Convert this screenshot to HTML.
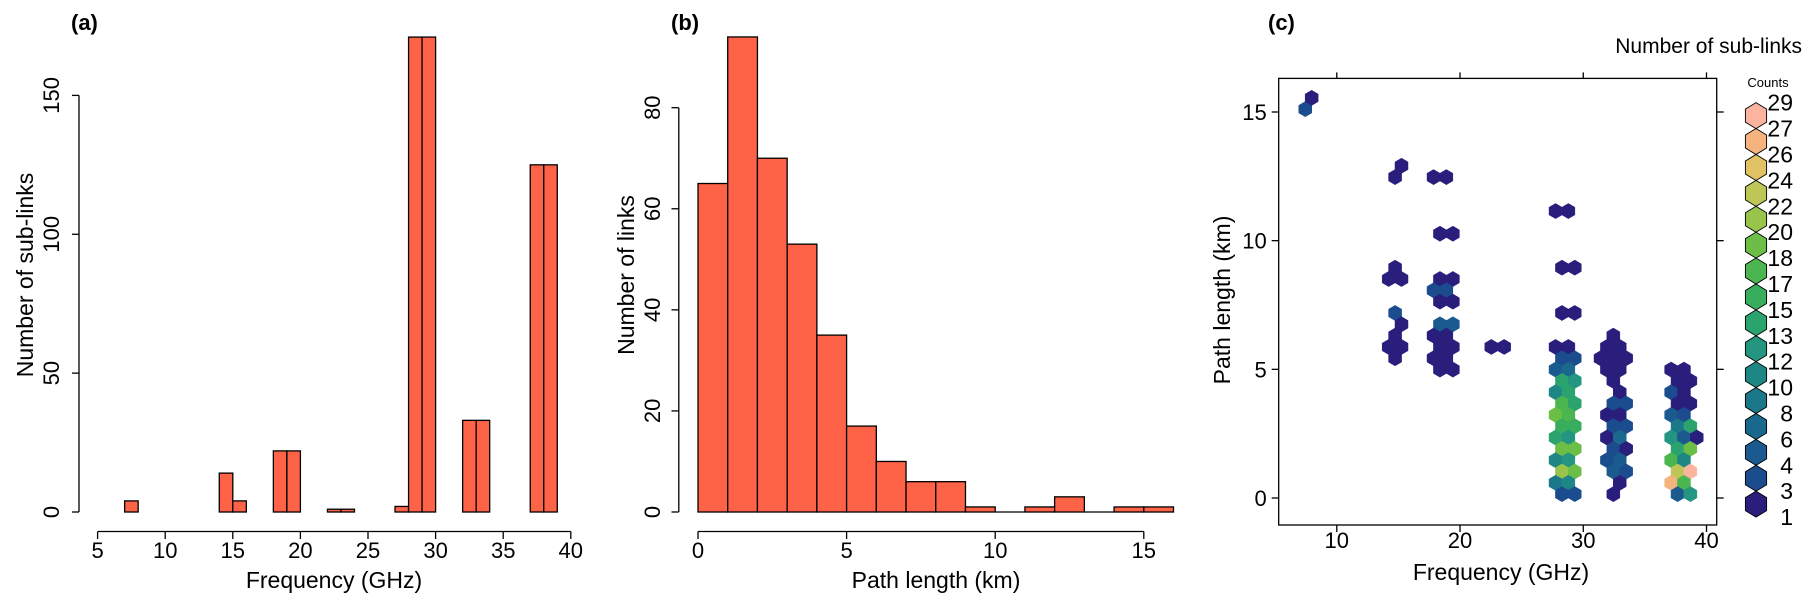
<!DOCTYPE html>
<html><head><meta charset="utf-8">
<style>
html,body{margin:0;padding:0;background:#fff;}
svg{display:block;font-family:"Liberation Sans",Arial,sans-serif;}
</style></head>
<body>
<svg id="fig" width="1819" height="602" viewBox="0 0 1819 602" xmlns="http://www.w3.org/2000/svg">
<g id="pa"></g>
<g id="pb"></g>
<g id="pc"></g>
</svg>
<script>
// ---- Panel (a) data ----
const freqBinStart = [7,8,9,10,11,12,13,14,15,16,17,18,19,20,21,22,23,24,25,26,27,28,29,30,31,32,33,34,35,36,37,38];
const freqCounts   = [4,0,0,0,0,0,0,14,4,0,0,22,22,0,0,1,1,0,0,0,2,171,171,0,0,33,33,0,0,0,125,125];
const freqTicks = [5,10,15,20,25,30,35,40];
const subLinkTicks = [0,50,100,150];
// ---- Panel (b) data ----
const lenBinStart = [0,1,2,3,4,5,6,7,8,9,10,11,12,13,14,15];
const lenCounts   = [65,94,70,53,35,17,10,6,6,1,0,1,3,0,1,1];
const lenTicks = [0,5,10,15];
const linkTicks = [0,20,40,60,80];
// ---- Panel (c) data ----
const hexX = [7.44,7.96,
 15.25,14.73,14.73,14.21,15.25,14.73,15.25,14.73,14.21,15.25,14.73,
 17.85,18.89,18.37,19.42,18.37,19.42,17.85,18.89,18.37,19.42,18.37,19.42,17.85,18.89,18.37,19.42,17.85,18.89,18.37,19.42,
 22.54,23.58,
 27.75,28.79,28.27,29.31,28.27,29.31,27.75,28.79,28.27,29.31,27.75,28.79,28.27,29.31,27.75,28.79,28.27,29.31,27.75,28.79,28.27,29.31,27.75,28.79,28.27,29.31,27.75,28.79,28.27,29.31,27.75,28.79,28.27,29.31,
 32.44,31.92,32.96,31.40,32.44,33.48,31.92,32.96,32.44,32.96,32.44,33.48,31.92,32.96,32.44,33.48,31.92,32.96,32.44,33.48,31.92,32.96,32.44,33.48,32.96,32.44,
 37.13,38.17,37.65,38.69,37.13,38.17,37.65,38.69,37.13,38.17,37.65,38.69,37.13,38.17,39.21,37.65,38.69,37.13,38.17,37.65,38.69,37.13,38.17,37.65,38.69];
const hexRow = [34,35,
 29,28,20,19,19,16,15,14,13,13,12,
 28,28,23,23,19,19,18,18,17,17,15,15,14,14,13,13,12,12,11,11,
 13,13,
 25,25,20,20,16,16,13,13,12,12,11,11,10,10,9,9,8,8,7,7,6,6,5,5,4,4,3,3,2,2,1,1,0,0,
 14,13,13,12,12,12,11,11,10,9,8,8,7,7,6,6,5,5,4,4,3,3,2,2,1,0,
 11,11,10,10,9,9,8,8,7,7,6,6,5,5,5,4,4,3,3,2,2,1,1,0,0];
const hexCount = [4,1,
 1,1,1,1,1,4,1,1,1,1,1,
 1,1,1,1,1,1,4,4,1,1,6,6,1,1,1,1,1,1,1,1,
 1,1,
 1,1,1,1,1,1,1,1,4,4,6,8,15,13,12,15,18,15,20,18,17,17,15,13,20,20,12,13,22,20,10,12,4,4,
 1,1,1,1,1,1,1,1,1,1,4,4,1,1,4,4,1,8,4,1,4,6,6,4,1,1,
 1,1,1,1,4,3,1,1,6,4,10,15,13,6,1,15,20,18,12,24,29,27,18,6,13];
const pathTicks = [0,5,10,15];
const freqTicksC = [10,20,30,40];
const legendLevels = [1,3,4,6,8,10,12,13,15,17,18,20,22,24,26,27,29];
const legendColors = ["#2a1e7d","#1b4c8e","#1a5a8f","#1a688d","#1b7889","#1e8785","#239580","#2ba36f","#38ad5e","#4bb64f","#6dbe47","#98c44c","#bdc657","#e0c264","#f5b47f","#fbb4a0"];

const NS="http://www.w3.org/2000/svg";
function mk(parent,tag,attrs,text){const e=document.createElementNS(NS,tag);for(const k in attrs)e.setAttribute(k,attrs[k]);if(text!==undefined)e.textContent=text;parent.appendChild(e);return e;}

// ===== Panel (a) =====
(function(){
 const g=document.getElementById('pa');
 const sx=v=>97.6+(v-5)*(570.8-97.6)/35;
 const sy=v=>512-v*(512-95.4)/150;
 freqBinStart.forEach((b,i)=>{
  const r=mk(g,'rect',{x:sx(b),y:sy(freqCounts[i]),width:sx(b+1)-sx(b),height:512-sy(freqCounts[i]),fill:'#ff6347',stroke:'#000','stroke-width':1.3});
  
  
 });
 const xa=mk(g,'g',{});
 
 
 mk(xa,'line',{x1:sx(5),x2:sx(40),y1:531.5,y2:531.5,stroke:'#000','stroke-width':1.3});
 freqTicks.forEach(t=>{mk(xa,'line',{x1:sx(t),x2:sx(t),y1:531.5,y2:539,stroke:'#000','stroke-width':1.3});
  const tx=mk(xa,'text',{x:sx(t),y:558,'font-size':22,'text-anchor':'middle'},t);
  
  });
 const xt=mk(g,'text',{x:334,y:588,'font-size':23,'text-anchor':'middle'},'Frequency (GHz)');
 
 
 const ya=mk(g,'g',{});
 
 
 mk(ya,'line',{x1:79,x2:79,y1:sy(0),y2:sy(150),stroke:'#000','stroke-width':1.3});
 subLinkTicks.forEach(t=>{mk(ya,'line',{x1:72,x2:79,y1:sy(t),y2:sy(t),stroke:'#000','stroke-width':1.3});
  const tx=mk(ya,'text',{x:0,y:0,'font-size':22,'text-anchor':'middle',transform:`translate(59,${sy(t)}) rotate(-90)`},t);
  
  });
 const yt=mk(g,'text',{x:0,y:0,'font-size':23,'text-anchor':'middle',transform:'translate(33,275) rotate(-90)'},'Number of sub-links');
 
 
 const pl=mk(g,'text',{x:71,y:30,'font-size':22,'font-weight':'bold'},'(a)');
 
 
})();

// ===== Panel (b) =====
(function(){
 const g=document.getElementById('pb');
 const sx=v=>698+v*(1143.8-698)/15;
 const sy=v=>512-v*(512-107.7)/80;
 lenBinStart.forEach((b,i)=>{
  if(lenCounts[i]===0){mk(g,'line',{x1:sx(b),x2:sx(b+1),y1:512,y2:512,stroke:'#000','stroke-width':1.3});return;}
  const r=mk(g,'rect',{x:sx(b),y:sy(lenCounts[i]),width:sx(b+1)-sx(b),height:512-sy(lenCounts[i]),fill:'#ff6347',stroke:'#000','stroke-width':1.3});
  
  
 });
 const xa=mk(g,'g',{});
 
 
 mk(xa,'line',{x1:sx(0),x2:sx(15),y1:531.5,y2:531.5,stroke:'#000','stroke-width':1.3});
 lenTicks.forEach(t=>{mk(xa,'line',{x1:sx(t),x2:sx(t),y1:531.5,y2:539,stroke:'#000','stroke-width':1.3});
  const tx=mk(xa,'text',{x:sx(t),y:558,'font-size':22,'text-anchor':'middle'},t);
  
  });
 const xt=mk(g,'text',{x:936,y:588,'font-size':23,'text-anchor':'middle'},'Path length (km)');
 
 
 const ya=mk(g,'g',{});
 
 
 mk(ya,'line',{x1:678.8,x2:678.8,y1:sy(0),y2:sy(80),stroke:'#000','stroke-width':1.3});
 linkTicks.forEach(t=>{mk(ya,'line',{x1:671.5,x2:678.8,y1:sy(t),y2:sy(t),stroke:'#000','stroke-width':1.3});
  const tx=mk(ya,'text',{x:0,y:0,'font-size':22,'text-anchor':'middle',transform:`translate(660,${sy(t)}) rotate(-90)`},t);
  
  });
 const yt=mk(g,'text',{x:0,y:0,'font-size':23,'text-anchor':'middle',transform:'translate(634,275) rotate(-90)'},'Number of links');
 
 
 const pl=mk(g,'text',{x:671,y:30,'font-size':22,'font-weight':'bold'},'(b)');
 
 
})();

// ===== Panel (c) =====
(function(){
 const g=document.getElementById('pc');
 const L=1278.7,R=1716.7,T=78.4,B=525;
 const sx=v=>1336.8+(v-10)*(1706.5-1336.8)/30;
 const sy=v=>498-v*(498-112)/15;
 const rowKm=r=>0.15+0.44*r;
 const colorFor=c=>{for(let i=0;i<legendColors.length;i++){if(c<=legendLevels[i+1])return legendColors[i];}return legendColors[legendColors.length-1];};
 const hw=6.5,hh=7.6;
 const hexPts=(cx,cy,w,h)=>[[cx,cy-h],[cx+w,cy-h/2],[cx+w,cy+h/2],[cx,cy+h],[cx-w,cy+h/2],[cx-w,cy-h/2]].map(p=>p[0].toFixed(2)+','+p[1].toFixed(2)).join(' ');
 hexX.forEach((x,i)=>{
  const cx=sx(x),cy=sy(rowKm(hexRow[i]));
  const p=mk(g,'polygon',{points:hexPts(cx,cy,hw,hh),fill:colorFor(hexCount[i]),stroke:colorFor(hexCount[i]),'stroke-width':0.5});
  
  
 });
 const fr=mk(g,'rect',{x:L,y:T,width:R-L,height:B-T,fill:'none',stroke:'#000','stroke-width':1.3});
 
 
 const xa=mk(g,'g',{});
 
 
 freqTicksC.forEach(t=>{
  mk(xa,'line',{x1:sx(t),x2:sx(t),y1:B,y2:B+7,stroke:'#000','stroke-width':1.3});
  mk(xa,'line',{x1:sx(t),x2:sx(t),y1:T,y2:T-6,stroke:'#000','stroke-width':1.3});
  const tx=mk(xa,'text',{x:sx(t),y:548,'font-size':22,'text-anchor':'middle'},t);
  
  });
 const xt=mk(g,'text',{x:1501,y:580,'font-size':23,'text-anchor':'middle'},'Frequency (GHz)');
 
 
 const ya=mk(g,'g',{});
 
 
 pathTicks.forEach(t=>{
  mk(ya,'line',{x1:L-7,x2:L,y1:sy(t),y2:sy(t),stroke:'#000','stroke-width':1.3});
  mk(ya,'line',{x1:R,x2:R+7,y1:sy(t),y2:sy(t),stroke:'#000','stroke-width':1.3});
  const tx=mk(ya,'text',{x:L-12,y:sy(t)+8,'font-size':22,'text-anchor':'end'},t);
  
  });
 const yt=mk(g,'text',{x:0,y:0,'font-size':23,'text-anchor':'middle',transform:'translate(1230,300) rotate(-90)'},'Path length (km)');
 
 
 const pl=mk(g,'text',{x:1268,y:30,'font-size':22,'font-weight':'bold'},'(c)');
 
 
 const tt=mk(g,'text',{x:1802,y:53,'font-size':21,'text-anchor':'end'},'Number of sub-links');
 
 
 // legend
 const lg=mk(g,'g',{});
 
 
 const ct=mk(lg,'text',{x:1768,y:87,'font-size':13,'text-anchor':'middle'},'Counts');
 
 
 const top=102.7,step=25.9,n=legendColors.length;
 for(let i=0;i<n;i++){
  const col=legendColors[n-1-i];
  const cy=top+step*i+step/2;
  const p=mk(lg,'polygon',{points:hexPts(1756,cy,10.6,13),fill:col,stroke:'#000','stroke-width':0.9});
  
  
 }
 for(let i=0;i<legendLevels.length;i++){
  const lv=legendLevels[legendLevels.length-1-i];
  const tx=mk(lg,'text',{x:1793,y:top+step*i+8,'font-size':23,'text-anchor':'end'},lv);
  
  
 }
})();
</script>
</body></html>
